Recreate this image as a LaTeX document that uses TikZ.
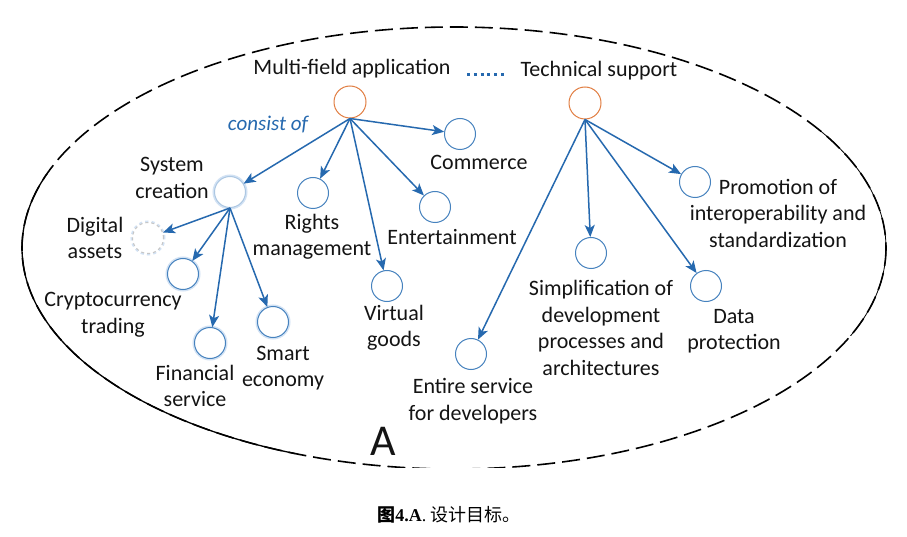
\documentclass[tikz,border=0pt]{standalone}
\usepackage{fontspec}
\setmainfont{Carlito}
\newfontfamily\cjkfont{Noto Sans CJK SC}
\newfontfamily\capserif{Liberation Serif}
\usetikzlibrary{arrows.meta}
\definecolor{arrowblue}{RGB}{38,105,175}
\definecolor{circblue}{RGB}{70,130,190}
\definecolor{rootorange}{RGB}{225,125,65}
\definecolor{txt}{RGB}{20,20,20}
\definecolor{glow}{RGB}{210,226,244}
\begin{document}
\begin{tikzpicture}[x=1pt,y=-1pt,
  leaf/.style={circle,draw=circblue,line width=1pt,minimum size=31pt,inner sep=0pt,fill=white},
  glowleaf/.style={leaf,preaction={draw=glow,line width=4pt}},
  root/.style={circle,draw=rootorange,line width=1pt,minimum size=32pt,inner sep=0pt},
  arr/.style={draw=arrowblue,line width=1.5pt,-{Stealth[length=12pt,width=10pt,inset=3pt]}},
  lbl/.style={align=center,text=txt,font=\fontsize{22}{26.5}\selectfont,inner sep=0pt},
  ]
\useasboundingbox[fill=white] (0,0) rectangle (907,537);

% outer ellipse
\path[save path=\ellp] (454,248) ellipse [x radius=432, y radius=221];
\begin{scope}
  \clip (0,0) rectangle (907,467);
  \draw[line width=1.6pt,dash pattern=on 18pt off 7pt,use path=\ellp];
  \begin{scope}
    \clip (0,175) rectangle (295,470);
    \draw[line width=1.3pt,use path=\ellp];
  \end{scope}
  \begin{scope}
    \clip (820,130) rectangle (907,335);
    \draw[line width=0.8pt,use path=\ellp];
  \end{scope}
\end{scope}

% root nodes
\node[root] (mfa) at (350,102) {};
\node[root] (ts) at (585,103) {};
\node[lbl] (mfaL) at (352,69) {Multi-field application};
\node[lbl] (tsL) at (599,71) {Technical support};
\coordinate (dl) at (467,75);
\coordinate (dr) at (506,75);
\draw[arrowblue,line width=3pt,dash pattern=on 3pt off 3.8pt] (dl) -- (dr);
\node[lbl,text=arrowblue,font=\fontsize{21}{25}\selectfont\itshape] (cons) at (268,125) {consist of};

% leaf nodes
\node[leaf] (com) at (460,134) {};
\node[glowleaf,draw=circblue!45] (sys) at (230,192) {};
\node[glowleaf,draw=gray!45,dashed] (dig) at (148,238) {};
\node[glowleaf] (cry) at (183,274) {};
\node[glowleaf] (fin) at (210,343) {};
\node[glowleaf] (sma) at (273,322) {};
\node[leaf] (rig) at (313,193) {};
\node[leaf] (vir) at (387,286) {};
\node[leaf] (ent) at (435,207) {};
\node[leaf] (pro) at (695,182) {};
\node[leaf] (sim) at (591,253) {};
\node[leaf] (dat) at (706,286) {};
\node[leaf] (ens) at (471,354) {};

% labels
\node[lbl] (comL) at (479,162) {Commerce};
\node[lbl] (sysL) at (172,178) {System\\creation};
\node[lbl] (digL) at (95,238) {Digital\\assets};
\node[lbl] (cryL) at (113,315) {Cryptocurrency\\trading};
\node[lbl] (finL) at (195,386) {Financial\\service};
\node[lbl] (smaL) at (283,368) {Smart\\economy};
\node[lbl] (rigL) at (312,237) {Rights\\management};
\node[lbl] (virL) at (394,328) {Virtual\\goods};
\node[lbl] (entL) at (452,237) {Entertainment};
\node[lbl] (proL) at (778,213) {Promotion of\\interoperability and\\standardization};
\node[lbl] (simL) at (601,328) {Simplification of\\development\\processes and\\architectures};
\node[lbl] (datL) at (734,331) {Data\\protection};
\node[lbl] (ensL) at (473,401) {Entire service\\for developers};
\node[lbl,font=\fontsize{44}{50}\selectfont] (bigA) at (383,441) {A};

% arrows
\draw[arr] (mfa.south) -- (sys);
\draw[arr] (mfa.south) -- (rig);
\draw[arr] (mfa.south) -- (vir);
\draw[arr] (mfa.south) -- (ent);
\draw[arr] (mfa.south) -- (com);
\draw[arr] (sys.south) -- (dig);
\draw[arr] (sys.south) -- (cry);
\draw[arr] (sys.south) -- (fin);
\draw[arr] (sys.south) -- (sma);
\draw[arr] (ts.south) -- (ens);
\draw[arr] (ts.south) -- (sim);
\draw[arr] (ts.south) -- (dat);
\draw[arr] (ts.south) -- (pro);

% caption
\node[inner sep=0pt,text=black] (cap) at (449,515) {\cjkfont\fontsize{18}{21}\selectfont\textbf{图}{\capserif\bfseries 4.A}{\capserif .}~设计目标。};
\end{tikzpicture}
\end{document}
